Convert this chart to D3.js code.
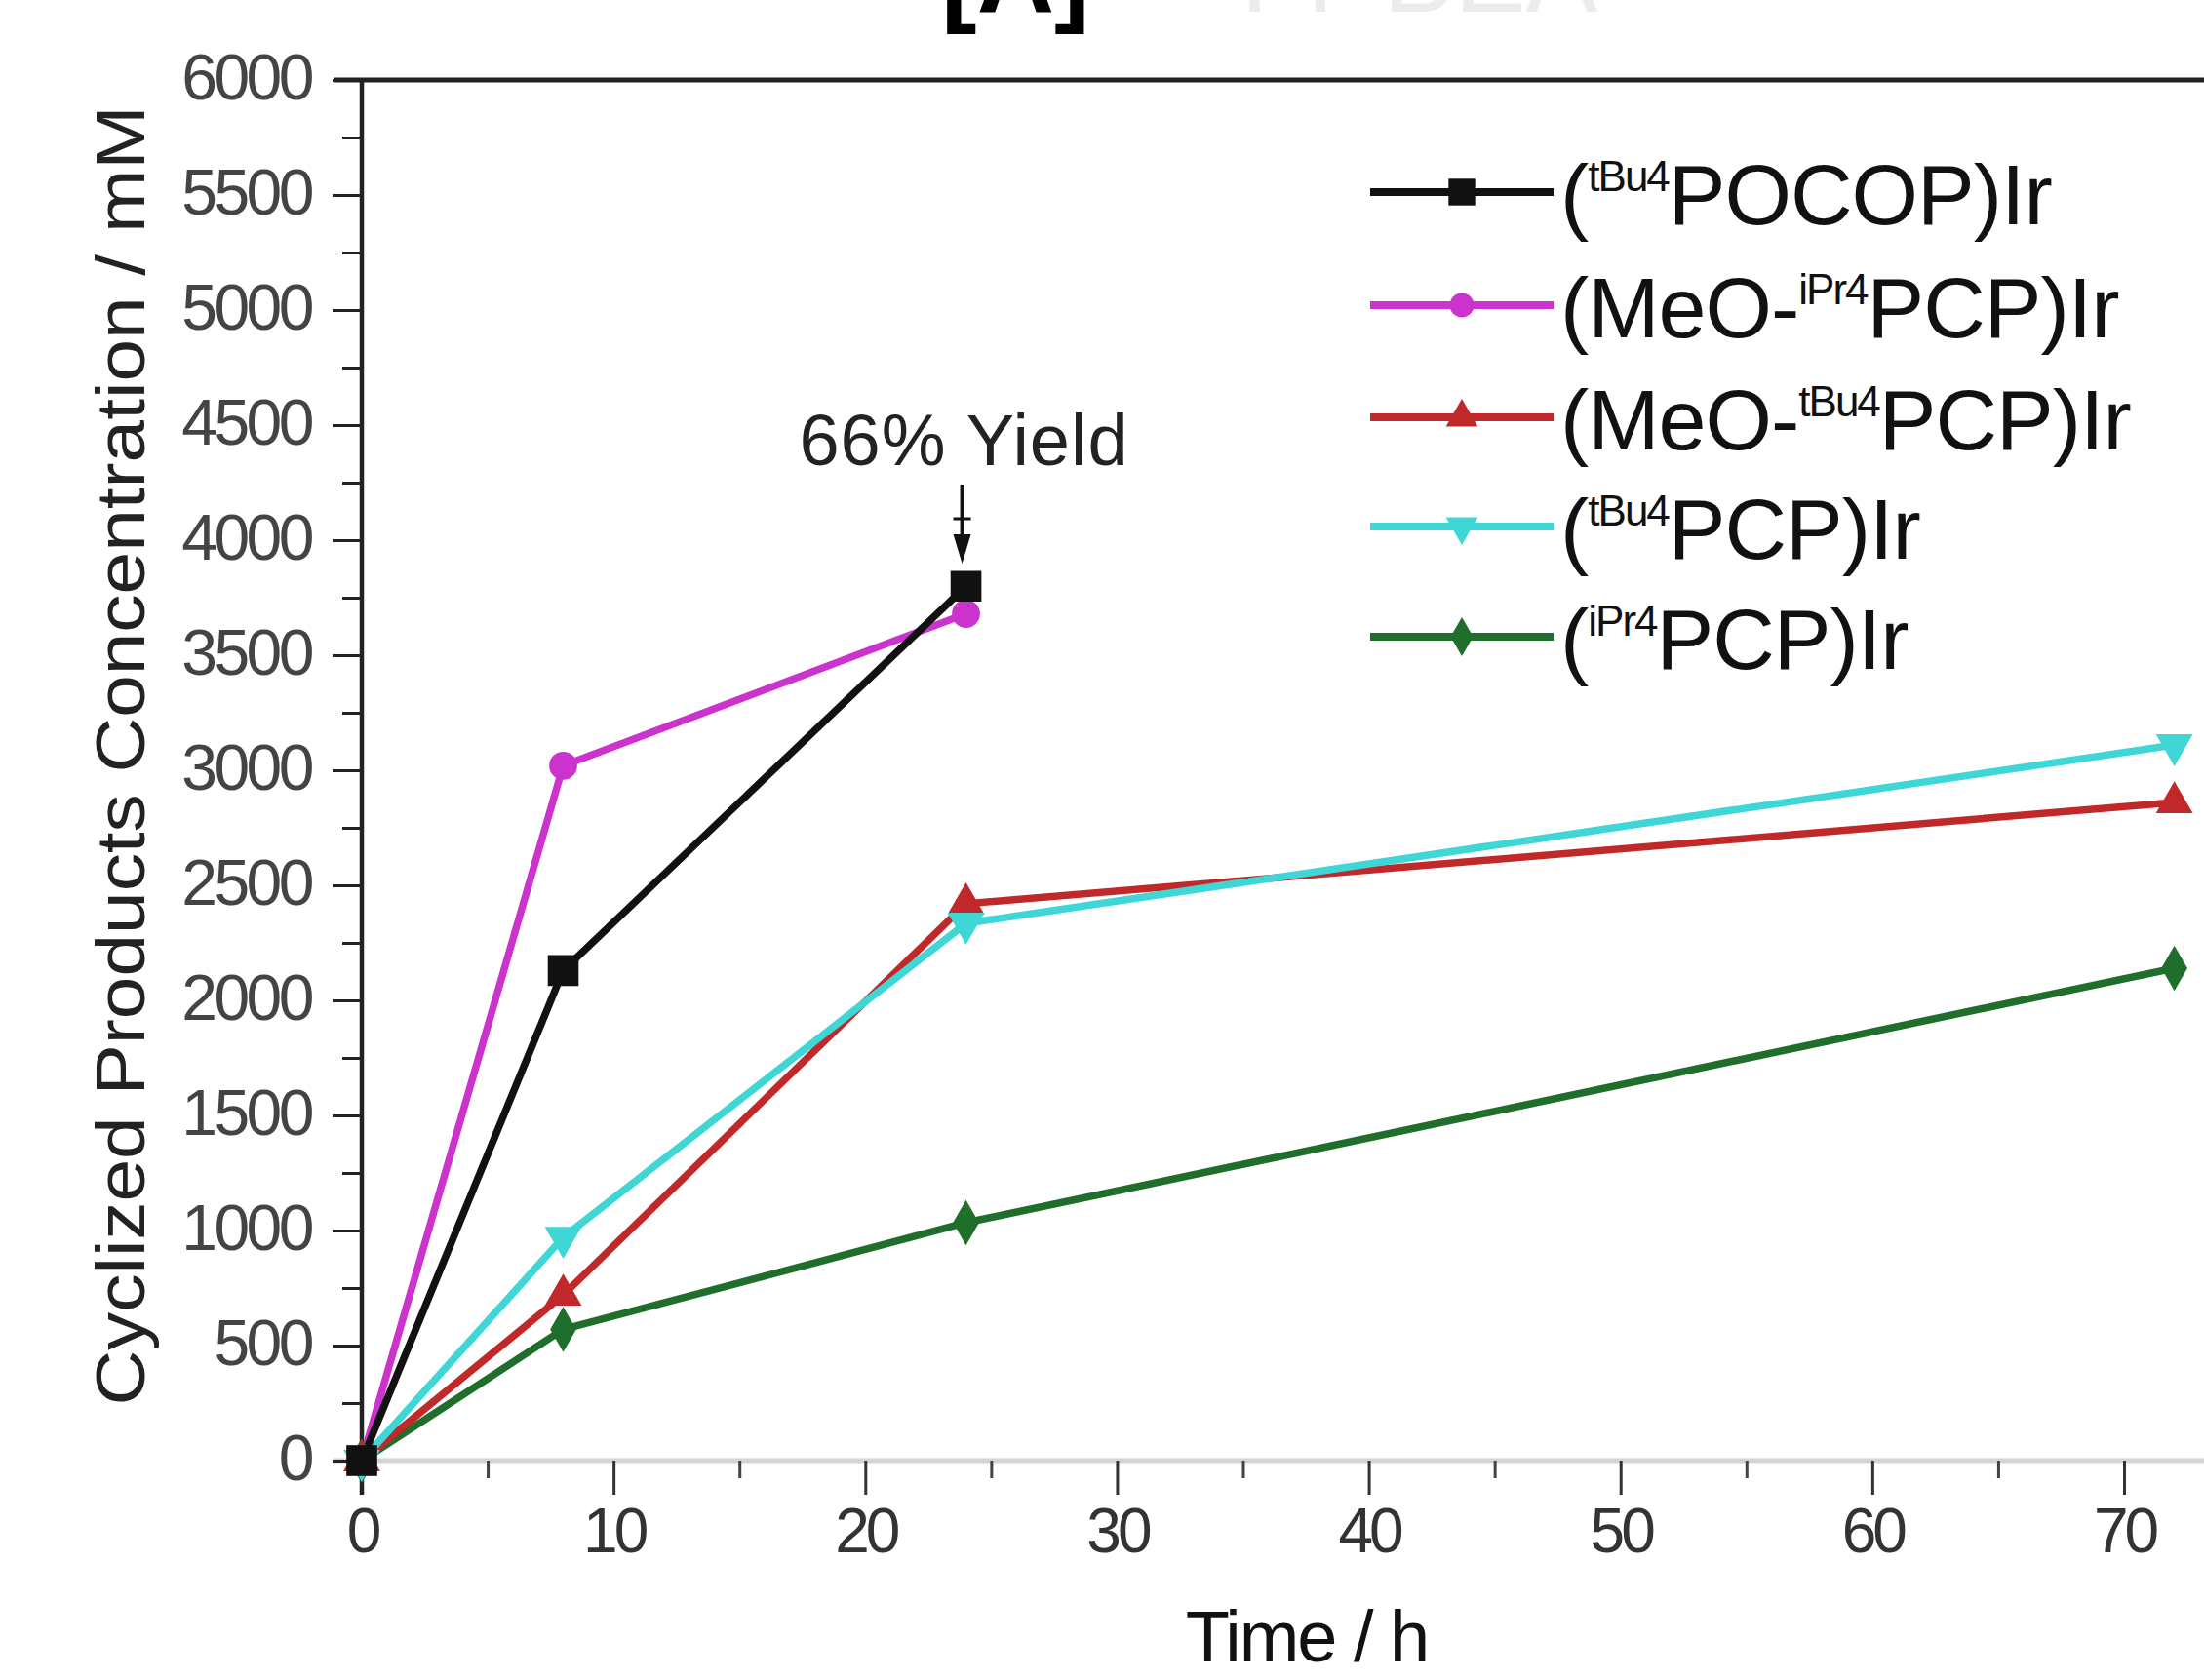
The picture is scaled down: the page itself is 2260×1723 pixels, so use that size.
<!DOCTYPE html>
<html lang="en">
<head>
    <meta charset="UTF-8">
    <title>Cyclized Products Concentration vs Time</title>
    <script src="https://d3js.org/d3.v7.min.js"></script>
    <style>
        body { margin: 0; background: #fff; }
        svg { display: block; font-family: "Liberation Sans", Arial, sans-serif; }
    </style>
</head>
<body>
    <div id="chart"></div>
    <script>
        // Data
        const times = [0, 8, 24, 72];
        const pocopTbu = [0, 2130, 3800];          // (tBu4POCOP)Ir, stops at 24 h
        const meoIprPcp = [0, 3020, 3680];         // (MeO-iPr4PCP)Ir, stops at 24 h
        const meoTbuPcp = [0, 720, 2420, 2860];    // (MeO-tBu4PCP)Ir
        const tbuPcp = [0, 970, 2335, 3110];       // (tBu4PCP)Ir
        const iprPcp = [0, 570, 1034, 2140];       // (iPr4PCP)Ir

        const xTicks = [0, 10, 20, 30, 40, 50, 60, 70];
        const xMinorTicks = [5, 15, 25, 35, 45, 55, 65];
        const yTicks = d3.range(0, 6001, 500);
        const yMinorTicks = d3.range(250, 6000, 500);

        // legend label parts: [before, superscript, after]
        const legendLabels = [
            ["(", "tBu4", "POCOP)Ir"],
            ["(MeO-", "iPr4", "PCP)Ir"],
            ["(MeO-", "tBu4", "PCP)Ir"],
            ["(", "tBu4", "PCP)Ir"],
            ["(", "iPr4", "PCP)Ir"]
        ];

        const series = [
            {values: pocopTbu, color: "#111111", symbol: d3.symbolSquare, size: 1000, rot: 0},
            {values: meoIprPcp, color: "#cc33cc", symbol: d3.symbolCircle, size: 650, rot: 0},
            {values: meoTbuPcp, color: "#c0282a", symbol: d3.symbolTriangle, size: 620, rot: 0},
            {values: tbuPcp, color: "#3fd6d6", symbol: d3.symbolTriangle, size: 620, rot: 180},
            {values: iprPcp, color: "#1f6e2c", symbol: d3.symbolDiamond, size: 620, rot: 0}
        ];
        const drawOrder = [4, 2, 3, 1, 0];

        const W = 2260, H = 1723;
        const svg = d3.select("#chart").append("svg")
            .attr("width", W)
            .attr("height", H);

        const x = d3.scaleLinear().domain([0, 70]).range([371, 2178]);
        const y = d3.scaleLinear().domain([0, 6000]).range([1498, 82]);

        // cropped panel title at the very top
        svg.append("text")
            .attr("x", 965).attr("y", 12)
            .attr("font-size", 110)
            .attr("font-weight", "bold")
            .attr("fill", "#000")
            .text("[A]");
        svg.append("text")
            .attr("x", 1253).attr("y", 12)
            .attr("font-size", 110)
            .attr("fill", "#ececec")
            .text("TT-BEA");

        // top frame line
        svg.append("line")
            .attr("x1", x(0) - 29).attr("x2", x(76))
            .attr("y1", y(6000)).attr("y2", y(6000))
            .attr("stroke", "#222").attr("stroke-width", 5);

        // bottom axis (light line, dark ticks)
        svg.append("line")
            .attr("x1", x(0) - 29).attr("x2", x(76))
            .attr("y1", y(0)).attr("y2", y(0))
            .attr("stroke", "#d4d4d4").attr("stroke-width", 5);

        const xAxis = svg.append("g")
            .attr("transform", `translate(0,${y(0)})`)
            .call(d3.axisBottom(x).tickValues(xTicks).tickSize(35).tickPadding(14).tickFormat(d3.format("d")));
        xAxis.select(".domain").remove();
        xAxis.selectAll(".tick line").attr("stroke", "#333").attr("stroke-width", 3);
        xAxis.selectAll(".tick text")
            .attr("font-size", 64)
            .attr("letter-spacing", -4)
            .attr("fill", "#333")
            .attr("font-family", "'Liberation Sans', Arial, sans-serif");

        const xMinor = svg.append("g")
            .attr("transform", `translate(0,${y(0)})`)
            .call(d3.axisBottom(x).tickValues(xMinorTicks).tickSize(18).tickFormat(""));
        xMinor.select(".domain").remove();
        xMinor.selectAll(".tick line").attr("stroke", "#444").attr("stroke-width", 3);

        // left axis
        const yAxis = svg.append("g")
            .attr("transform", `translate(${x(0)},0)`)
            .call(d3.axisLeft(y).tickValues(yTicks).tickSize(30).tickPadding(22).tickFormat(d3.format("d")));
        yAxis.select(".domain").remove();
        yAxis.selectAll(".tick line").attr("stroke", "#222").attr("stroke-width", 3);
        yAxis.selectAll(".tick text")
            .attr("font-size", 66)
            .attr("letter-spacing", -3.5)
            .attr("dy", "0.3em")
            .attr("fill", "#444")
            .attr("font-family", "'Liberation Sans', Arial, sans-serif");

        const yMinor = svg.append("g")
            .attr("transform", `translate(${x(0)},0)`)
            .call(d3.axisLeft(y).tickValues(yMinorTicks).tickSize(20).tickFormat(""));
        yMinor.select(".domain").remove();
        yMinor.selectAll(".tick line").attr("stroke", "#222").attr("stroke-width", 3);

        svg.append("line")
            .attr("x1", x(0)).attr("x2", x(0))
            .attr("y1", y(6000)).attr("y2", y(0) + 35)
            .attr("stroke", "#222").attr("stroke-width", 4.5);

        // axis titles
        svg.append("text")
            .attr("transform", `translate(148,775) rotate(-90)`)
            .attr("text-anchor", "middle")
            .attr("font-size", 70)
            .attr("textLength", 1333)
            .attr("lengthAdjust", "spacingAndGlyphs")
            .attr("fill", "#222")
            .text("Cyclized Products Concentration / mM");

        svg.append("text")
            .attr("x", 1340).attr("y", 1704)
            .attr("text-anchor", "middle")
            .attr("font-size", 74)
            .attr("letter-spacing", -2)
            .attr("fill", "#111")
            .text("Time / h");

        // lines and markers
        const line = d3.line()
            .x((d, i) => x(times[i]))
            .y(d => y(d));

        drawOrder.forEach(k => {
            const s = series[k];
            svg.append("path")
                .datum(s.values)
                .attr("d", line)
                .attr("fill", "none")
                .attr("stroke", s.color)
                .attr("stroke-width", 7.5)
                .attr("stroke-linejoin", "round");
        });
        drawOrder.forEach(k => {
            const s = series[k];
            svg.append("g").selectAll("path")
                .data(s.values)
                .join("path")
                .attr("transform", (d, i) => `translate(${x(times[i])},${y(d)}) rotate(${s.rot})`)
                .attr("d", d3.symbol().type(s.symbol).size(s.size))
                .attr("fill", s.color);
        });

        // annotation
        svg.append("text")
            .attr("x", x(24) - 2).attr("y", 477)
            .attr("text-anchor", "middle")
            .attr("font-size", 74)
            .attr("letter-spacing", 1)
            .attr("fill", "#222")
            .text("66% Yield");
        svg.append("line")
            .attr("x1", x(24) - 4).attr("x2", x(24) - 4)
            .attr("y1", 497).attr("y2", 568)
            .attr("stroke", "#111").attr("stroke-width", 4);
        svg.append("line")
            .attr("x1", x(24) - 13).attr("x2", x(24) + 5)
            .attr("y1", 532).attr("y2", 532)
            .attr("stroke", "#111").attr("stroke-width", 3);
        svg.append("path")
            .attr("d", `M${x(24) - 13},548 L${x(24) + 5},548 L${x(24) - 4},578 Z`)
            .attr("fill", "#111");

        // legend
        const legRows = [197, 313, 428, 540, 653];
        const legend = svg.append("g");
        legendLabels.forEach((lab, i) => {
            const s = series[i];
            const ly = legRows[i];
            legend.append("line")
                .attr("x1", 1405).attr("x2", 1593)
                .attr("y1", ly).attr("y2", ly)
                .attr("stroke", s.color).attr("stroke-width", 8);
            legend.append("path")
                .attr("transform", `translate(1499,${ly}) rotate(${s.rot})`)
                .attr("d", d3.symbol().type(s.symbol).size(s.size * 0.75))
                .attr("fill", s.color);
            const t = legend.append("text")
                .attr("x", 1600).attr("y", ly + 33)
                .attr("font-size", 88)
                .attr("letter-spacing", -1)
                .attr("fill", "#111");
            t.append("tspan").text(lab[0]);
            t.append("tspan").attr("font-size", 44).attr("dy", -34).attr("letter-spacing", -2).text(lab[1]);
            t.append("tspan").attr("dy", 34).text(lab[2]);
        });
    </script>
</body>
</html>
